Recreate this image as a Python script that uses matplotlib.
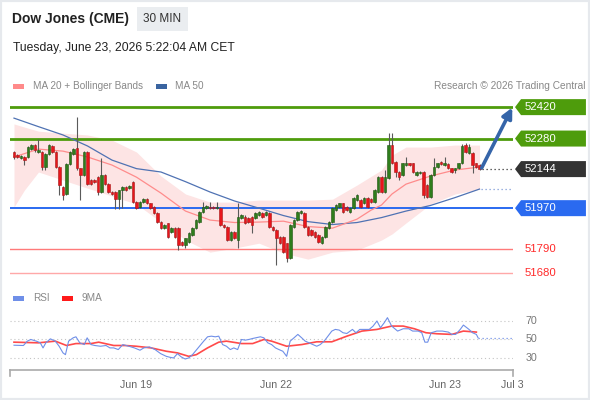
import matplotlib
matplotlib.use("Agg")
import matplotlib.pyplot as plt
import matplotlib.patches as patches
import matplotlib.transforms as transforms

plt.rcParams['font.family'] = ['Liberation Sans', 'DejaVu Sans']

# 30 min candles
opens = [52220, 52205, 52193, 52198, 52198, 52234, 52250, 52220, 52220, 52153,
         52212, 52247, 52220, 52153, 52064, 52034, 52168, 52212, 52236, 52147,
         52117, 52220, 52095, 52096, 52108, 52042, 52116, 52079, 52042, 52042,
         52012, 52049, 52064, 52059, 52087, 51998, 51976, 51997, 52010, 51991,
         51976, 51947, 51909, 51880, 51902, 51865, 51880, 51880, 51820, 51806,
         51820, 51850, 51880, 51909, 51954, 51969, 51976, 51976, 51969, 51969,
         51895, 51887, 51828, 51865, 51828, 51924, 51930, 51926, 51932, 51924,
         51939, 51947, 51939, 51947, 51887, 51872, 51843, 51843, 51813, 51746,
         51887, 51917, 51948, 51947, 51887, 51872, 51865, 51850, 51813, 51843,
         51880, 51909, 51961, 51976, 51991, 51976, 51954, 51969, 52006, 52006,
         51991, 52014, 52010, 51998, 52043, 52110, 52043, 52103, 52251, 52177,
         52132, 52117, 52162, 52169, 52169, 52117, 52125, 52132, 52073, 52021,
         52117, 52154, 52174, 52162, 52165, 52147, 52140, 52147, 52169, 52251,
         52215, 52214, 52169, 52162]
highs = [52226, 52211, 52206, 52202, 52247, 52255, 52255, 52279, 52224, 52217,
         52255, 52251, 52224, 52157, 52068, 52172, 52224, 52238, 52377, 52151,
         52224, 52224, 52099, 52100, 52112, 52193, 52120, 52083, 52046, 52046,
         52053, 52068, 52068, 52072, 52091, 52002, 52002, 52014, 52014, 51995,
         51980, 51951, 51913, 51899, 51906, 51884, 51884, 51884, 51824, 51839,
         51862, 51884, 51921, 51958, 51998, 51985, 51998, 51980, 51998, 51973,
         51899, 51891, 51869, 51869, 51993, 51943, 51939, 51930, 51936, 51951,
         51958, 51951, 51956, 51951, 51891, 51876, 51847, 51847, 51817, 51899,
         51921, 51958, 51961, 51951, 51891, 51876, 51869, 51854, 51847, 51891,
         51913, 51973, 51987, 51995, 51995, 51980, 51973, 52018, 52032, 52010,
         52018, 52018, 52014, 52055, 52114, 52114, 52140, 52304, 52304, 52181,
         52136, 52173, 52199, 52173, 52173, 52136, 52136, 52136, 52077, 52121,
         52192, 52173, 52178, 52199, 52169, 52151, 52151, 52173, 52255, 52260,
         52255, 52218, 52173, 52166]
lows = [52191, 52193, 52189, 52162, 52193, 52230, 52222, 52215, 52140, 52140,
        52208, 52215, 52148, 52028, 52006, 52030, 52164, 52208, 52142, 52006,
        52112, 52075, 52073, 52082, 52027, 52038, 52075, 52038, 52030, 51967,
        51967, 51970, 52045, 52055, 51994, 51965, 51972, 51993, 51987, 51965,
        51943, 51905, 51876, 51876, 51839, 51860, 51839, 51783, 51800, 51792,
        51816, 51846, 51876, 51905, 51950, 51965, 51965, 51965, 51965, 51891,
        51883, 51824, 51824, 51831, 51792, 51920, 51898, 51905, 51859, 51920,
        51935, 51928, 51935, 51883, 51868, 51716, 51809, 51772, 51731, 51742,
        51883, 51913, 51944, 51883, 51846, 51846, 51839, 51816, 51809, 51839,
        51876, 51905, 51957, 51972, 51950, 51957, 51950, 51965, 52002, 51972,
        51987, 51972, 51994, 51994, 52039, 52039, 52039, 52099, 52165, 52110,
        52095, 52113, 52158, 52158, 52128, 52113, 52121, 52014, 52017, 52017,
        52113, 52150, 52161, 52158, 52143, 52128, 52125, 52143, 52165, 52217,
        52211, 52125, 52150, 52140]
closes = [52198, 52198, 52202, 52183, 52242, 52250, 52227, 52229, 52153, 52212,
          52250, 52220, 52153, 52073, 52028, 52168, 52220, 52234, 52147, 52117,
          52220, 52079, 52077, 52086, 52042, 52116, 52079, 52042, 52034, 52012,
          52049, 52064, 52049, 52068, 51998, 51969, 51998, 52010, 51991, 51969,
          51947, 51909, 51880, 51895, 51843, 51880, 51843, 51806, 51806, 51835,
          51858, 51880, 51917, 51954, 51976, 51981, 51969, 51969, 51976, 51895,
          51887, 51828, 51865, 51835, 51932, 51939, 51902, 51909, 51895, 51947,
          51954, 51932, 51952, 51887, 51872, 51835, 51813, 51776, 51746, 51895,
          51917, 51954, 51957, 51887, 51850, 51850, 51843, 51820, 51843, 51887,
          51909, 51969, 51983, 51991, 51954, 51961, 51969, 52014, 52028, 51976,
          52014, 51976, 51998, 52051, 52110, 52043, 52110, 52251, 52169, 52132,
          52110, 52169, 52169, 52162, 52132, 52132, 52132, 52028, 52021, 52117,
          52154, 52169, 52165, 52169, 52147, 52132, 52147, 52169, 52248, 52221,
          52243, 52162, 52154, 52144]

# moving averages / bands sampled along the chart (bar index, price)
ma50_idx = [0, 7, 14, 21, 28, 35, 42, 49, 56, 63, 70, 77, 84, 91, 98, 105, 112, 119, 126, 133]
ma50 = [52371, 52333, 52296, 52247, 52184, 52146, 52131, 52088, 52042, 52002,
        51970, 51937, 51910, 51897, 51906, 51928, 51957, 51982, 52017, 52055]

ma20_idx = [0, 7, 14, 21, 28, 35, 42, 49, 56, 63, 70, 77, 84, 91, 98, 102, 105, 108, 112, 119, 126, 133]
ma20 = [52198, 52233, 52224, 52198, 52162, 52108, 52037, 51957, 51917, 51906, 51908,
        51912, 51888, 51881, 51921, 51961, 51984, 52033, 52077, 52113, 52140, 52153]

band_idx = [0, 3, 7, 14, 21, 28, 35, 42, 49, 56, 63, 70, 77, 84, 91, 98, 105, 108, 112, 119, 126, 133]
band_upper = [52345, 52331, 52313, 52304, 52296, 52273, 52220, 52113, 52033, 51997, 51997,
              52006, 52006, 52006, 52010, 52073, 52140, 52206, 52242, 52242, 52251, 52251]
band_lower = [51975, 52051, 52131, 52095, 52059, 52024, 51988, 51908, 51828, 51774, 51792,
              51814, 51770, 51743, 51774, 51783, 51828, 51855, 51904, 51988, 52033, 52055]

last_price = 52144
resistances = [52420, 52280]
support_pivot = 51970
supports = [51790, 51680]

rsi_idx = [0.0, 2.7, 3.8, 4.8, 6.4, 7.5, 8.3, 9.1, 10.4, 11.8, 12.9, 14.0, 14.7, 15.6, 16.9,
           17.7, 18.8, 20.1, 20.9, 22.0, 23.1, 24.7, 26.3, 27.4, 28.5, 29.8, 31.1, 32.8,
           34.4, 36.0, 37.1, 38.7, 40.3, 41.9, 43.5, 44.6, 45.6, 46.7, 47.8, 48.9, 49.9,
           51.0, 52.6, 54.2, 55.3, 56.4, 57.5, 58.5, 59.6, 60.7, 61.8, 62.8, 63.9, 65.0,
           66.1, 67.1, 68.2, 70.4, 71.4, 72.5, 73.6, 74.7, 75.7, 76.8, 77.9, 78.9, 80.0,
           81.1, 82.2, 83.2, 84.3, 85.4, 86.5, 87.5, 88.6, 89.7, 90.8, 91.8, 92.9, 94.0,
           95.1, 96.7, 97.7, 98.8, 99.9, 101.5, 102.6, 103.7, 104.7, 105.8, 106.7, 107.9,
           109.6, 111.2, 112.8, 113.9, 115.5, 116.5, 117.4, 118.2, 119.2, 120.8, 122.4,
           124.1, 125.1, 126.2, 127.5, 128.4, 130.0, 131.0, 132.1, 132.6]
rsi = [43.8, 43.5, 48.2, 50.0, 48.2, 46.4, 40.9, 46.4, 50.7, 48.2, 42.7, 35.5, 33.6, 48.2,
       51.8, 52.9, 46.4, 44.5, 51.8, 44.5, 43.5, 42.7, 43.5, 40.9, 40.9, 39.1, 44.5, 42.7,
       40.9, 38.4, 40.9, 42.0, 39.1, 34.7, 31.8, 30.7, 30.0, 34.7, 31.1, 28.9, 30.0, 33.6,
       40.9, 48.2, 52.9, 53.6, 52.9, 53.6, 44.5, 42.7, 39.1, 40.9, 39.1, 50.0, 49.3, 50.0,
       51.1, 52.9, 51.8, 46.4, 44.5, 40.9, 39.1, 37.3, 31.8, 48.2, 51.8, 55.5, 51.8, 48.2,
       46.4, 44.5, 42.7, 44.5, 48.2, 53.6, 59.1, 60.9, 60.2, 57.3, 56.5, 60.9, 57.3, 60.9,
       60.9, 60.9, 64.5, 70.0, 62.7, 68.2, 73.6, 64.5, 59.1, 61.6, 61.6, 59.1, 59.1, 57.3,
       47.1, 47.1, 57.3, 59.1, 59.1, 58.0, 55.5, 55.5, 60.9, 65.6, 60.9, 57.3, 55.5, 51.8]

rsi_ma_idx = [0, 7.0, 11.8, 15.0, 17.7, 22.0, 24.2, 28.5, 31.7, 34.9, 39.2, 43.5, 46.7, 49.9,
              52.1, 55.3, 58.5, 60.7, 65.0, 68.2, 71.4, 73.6, 77.9, 82.2, 86.5, 90.8, 95.1,
              99.4, 103.7, 107.9, 111.2, 114.4, 117.7, 120.8, 125.1, 128.4, 132.1]
rsi_ma = [47.1, 46.4, 48.2, 43.5, 45.6, 45.6, 47.1, 43.5, 43.5, 42.7, 40.9, 37.3, 35.5, 31.8,
          33.6, 40.9, 47.1, 48.2, 45.6, 45.6, 50.0, 48.2, 42.7, 44.5, 47.5, 47.5, 53.6, 59.1,
          60.9, 64.5, 64.5, 61.6, 57.3, 56.2, 55.5, 59.1, 58.0]

tick_pos = [35, 75, 123, 142.3]
tick_labels = ['Jun 19', 'Jun 22', 'Jun 23', 'Jul 3']

W, H = 590, 400
fig = plt.figure(figsize=(5.9, 4), dpi=100, facecolor='white')


def fx(px):
    return px / W


def fy(py):
    return 1 - py / H


x_lim = (-1.14, 142.57)

# ---- price panel ----
ax = fig.add_axes([fx(10), fy(280), (513 - 10) / W, (280 - 95) / H])
ax.set_xlim(*x_lim)
ax.set_ylim(51650, 52474)
ax.axis('off')
ppx = (52474 - 51650) / 185.0

ax.fill_between(band_idx, band_lower, band_upper, color='#fde4e4', lw=0, zorder=1)
ax.plot(ma50_idx, ma50, color='#4f72b3', lw=0.9, zorder=3)
ax.plot(ma20_idx, ma20, color='#ff8c8c', lw=0.9, zorder=3)

for r in resistances:
    ax.axhline(r, color='#4e9c0c', lw=2, zorder=2)
ax.axhline(support_pivot, color='#2a6af0', lw=1.4, zorder=2)
ax.axhline(supports[0], color='#ff7a7a', lw=1, zorder=2)
ax.axhline(supports[1], color='#ffa8a8', lw=1, zorder=2)

n = len(closes)
for i in range(n):
    o, h, l, c = opens[i], highs[i], lows[i], closes[i]
    up = c >= o
    ax.vlines(i, l, h, color='#5a5a5a', lw=0.8, zorder=4)
    bot = min(o, c)
    hgt = abs(c - o)
    if hgt < 4.5:
        bot -= (4.5 - hgt) / 2
        hgt = 4.5
    ax.bar(i, hgt, bottom=bot, width=0.8,
           color='#2f7d1c' if up else '#e8151b',
           edgecolor='#1e5512' if up else '#a61818', lw=0.4, zorder=5)

end_x = n - 1
ax.plot([end_x + 0.8, x_lim[1]], [last_price, last_price], color='#333333',
        lw=0.9, ls=(0, (1, 2.2)), zorder=3)
ax.plot([end_x + 0.3, x_lim[1]], [ma50[-1], ma50[-1]], color='#7f9ad6',
        lw=0.9, ls=(0, (1, 2.2)), zorder=3)
ax.annotate('', xy=(x_lim[1] - 0.2, resistances[0] - 2), xytext=(end_x + 0.6, last_price + 5),
            arrowprops=dict(arrowstyle='-|>', color='#3565a9', lw=2.6,
                            mutation_scale=15, shrinkA=0, shrinkB=0), zorder=6)

trans = transforms.blended_transform_factory(ax.transAxes, ax.transData)
hh = 8 * ppx
boxes = [(resistances[0], '#4e9c0c'), (resistances[1], '#4e9c0c'),
         (last_price, '#333333'), (support_pivot, '#2a6af0')]
for p, col in boxes:
    pts = [(1.004, p), (1.016, p + hh), (1.145, p + hh), (1.145, p - hh), (1.016, p - hh)]
    ax.add_patch(patches.Polygon(pts, closed=True, transform=trans, clip_on=False,
                                 facecolor=col, edgecolor='none'))
    ax.text(1.024, p, str(p), transform=trans, va='center', ha='left',
            color='white', fontsize=8.2)
for p in supports:
    ax.text(1.024, p, str(p), transform=trans, va='center', ha='left',
            color='#ff2a2a', fontsize=8.2)

# ---- RSI panel ----
ax2 = fig.add_axes([fx(10), fy(370), (513 - 10) / W, (370 - 305) / H])
ax2.set_xlim(*x_lim)
ax2.set_ylim(17, 87.3)
for s in ['top', 'left', 'right']:
    ax2.spines[s].set_visible(False)
ax2.spines['bottom'].set_color('#aaaaaa')
ax2.spines['bottom'].set_linewidth(1.2)
ax2.set_yticks([])
ax2.set_xticks(tick_pos)
ax2.set_xticklabels(tick_labels)
ax2.tick_params(axis='x', length=0, pad=7, labelsize=7.7, labelcolor='#666666')
for xe in (0, 1):
    ax2.plot([xe, xe], [0, -0.09], transform=ax2.transAxes, color='#aaaaaa',
             lw=1.2, clip_on=False)

for v in (30, 50, 70):
    ax2.axhline(v, color='#c4c4c4', lw=0.8, ls=(0, (1, 2.5)), zorder=1)
    ax2.text((531 - 10) / 503, v, str(v), transform=transforms.blended_transform_factory(
        ax2.transAxes, ax2.transData), ha='center', va='center', fontsize=7.7, color='#777777')

ax2.plot(rsi_ma_idx, rsi_ma, color='#ff2a2a', lw=1.2, alpha=0.85, zorder=2)
ax2.plot(rsi_idx, rsi, color='#6f8fe8', lw=0.8, zorder=3)
ax2.plot([rsi_idx[-1], x_lim[1]], [rsi[-1], rsi[-1]], color='#6f8fe8', lw=0.9,
         ls=(0, (1, 2.2)), zorder=3)

# ---- header / legends ----
fig.text(fx(12), fy(19), 'Dow Jones (CME)', fontsize=10, fontweight='bold',
         color='#222222', va='center')
fig.patches.append(patches.Rectangle((fx(137), fy(31)), 51 / W, 24 / H,
                                     transform=fig.transFigure, facecolor='#eaedf0',
                                     edgecolor='none'))
fig.text(fx(162.5), fy(19), '30 MIN', fontsize=8.5, color='#333333', va='center', ha='center')
fig.text(fx(13), fy(48), 'Tuesday, June 23, 2026 5:22:04 AM CET', fontsize=8.7,
         color='#222222', va='center')

legend_items = [(13, 33, '#ff8a8a', 'MA 20 + Bollinger Bands', 86),
                (156, 175, '#3a64a0', 'MA 50', 86),
                (13, 33, '#6f8fe8', 'RSI', 298),
                (62, 82, '#ff1a1a', '9MA', 298)]
for sx, tx, col, lab, yy in legend_items:
    fig.patches.append(patches.Rectangle((fx(sx), fy(yy + 2.5)), 11 / W, 5 / H,
                                         transform=fig.transFigure, facecolor=col,
                                         edgecolor='none'))
    fig.text(fx(tx), fy(yy), lab, fontsize=7.2, color='#888888', va='center')
fig.text(fx(586), fy(86), 'Research \u00a9 2026 Trading Central', fontsize=7.3,
         color='#888888', va='center', ha='right')

fig.patches.append(patches.Rectangle((0, 0), 1, 1, transform=fig.transFigure, fill=False,
                                     edgecolor='#e6e9ed', lw=3))

fig.savefig('out.png', dpi=100, facecolor='white')
